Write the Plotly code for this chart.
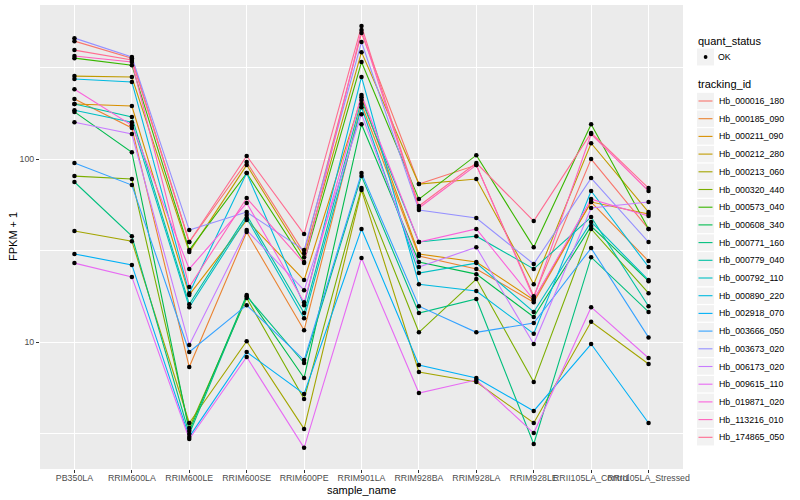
import plotly.graph_objects as go

samples = ["PB350LA", "RRIM600LA", "RRIM600LE", "RRIM600SE", "RRIM600PE", "RRIM901LA",
           "RRIM928BA", "RRIM928LA", "RRIM928LE", "RRII105LA_Control", "RRII105LA_Stressed"]

tracking_ids = ["Hb_000016_180", "Hb_000185_090", "Hb_000211_090", "Hb_000212_280", "Hb_000213_060",
                "Hb_000320_440", "Hb_000573_040", "Hb_000608_340", "Hb_000771_160", "Hb_000779_040",
                "Hb_000792_110", "Hb_000890_220", "Hb_002918_070", "Hb_003666_050", "Hb_003673_020",
                "Hb_006173_020", "Hb_009615_110", "Hb_019871_020", "Hb_113216_010", "Hb_174865_050"]

# FPKM + 1 per sample, in sample order
hb_000016_180 = [441, 356, 35.2, 96.3, 30.6, 488, 73.0, 92.7, 17.8, 100, 41.5]
hb_000185_090 = [213, 148, 7.30, 39.9, 11.6, 200, 29.5, 25.1, 16.5, 58.2, 27.7]
hb_000211_090 = [200, 195, 18.1, 46.4, 21.8, 218, 30.3, 27.4, 17.0, 58.2, 50.1]
hb_000212_280 = [284, 281, 31.0, 92.7, 29.1, 384, 73.0, 77.8, 20.7, 122, 51.3]
hb_000213_060 = [40.4, 35.6, 3.61, 10.1, 3.35, 67.7, 6.86, 6.04, 3.61, 12.9, 7.58]
hb_000320_440 = [80.7, 77.8, 3.39, 17.4, 4.88, 69.4, 11.3, 22.1, 6.04, 41.5, 18.5]
hb_000573_040 = [356, 326, 31.8, 83.8, 27.4, 339, 60.4, 105, 33.0, 155, 41.5]
hb_000608_340 = [181, 109, 3.26, 18.1, 6.36, 155, 27.4, 23.5, 13.7, 43.0, 21.5]
hb_000771_160 = [74.9, 37.9, 3.14, 17.8, 7.68, 80.7, 14.4, 17.2, 2.77, 29.1, 14.6]
hb_000779_040 = [200, 170, 16.1, 49.4, 14.4, 210, 35.2, 37.9, 25.1, 48.2, 15.7]
hb_000792_110 = [185, 159, 15.5, 47.6, 13.5, 192, 23.8, 27.0, 14.6, 45.3, 21.8]
hb_000890_220 = [274, 264, 18.5, 83.8, 15.9, 281, 20.7, 19.0, 11.1, 66.9, 25.7]
hb_002918_070 = [30.3, 26.4, 3.03, 8.82, 5.20, 41.5, 7.49, 6.36, 4.20, 9.75, 3.61]
hb_003666_050 = [95.1, 72.1, 8.82, 15.9, 7.97, 83.8, 15.7, 11.3, 12.7, 32.6, 10.6]
hb_003673_020 = [458, 361, 40.9, 51.3, 31.8, 436, 52.6, 47.6, 26.7, 78.7, 35.2]
hb_006173_020 = [159, 137, 9.63, 40.9, 19.2, 176, 25.7, 33.0, 9.75, 54.0, 58.2]
hb_009615_110 = [27.0, 22.7, 2.95, 8.28, 2.64, 28.8, 5.26, 6.20, 3.18, 15.5, 8.18]
hb_019871_020 = [241, 153, 25.1, 57.5, 16.5, 224, 35.2, 41.5, 17.0, 60.4, 48.8]
hb_113216_010 = [366, 339, 20.0, 61.2, 27.0, 507, 54.0, 92.7, 17.4, 137, 66.9]
hb_174865_050 = [394, 348, 35.2, 104, 38.9, 533, 55.4, 95.1, 45.8, 139, 69.4]

series_values = [hb_000016_180, hb_000185_090, hb_000211_090, hb_000212_280, hb_000213_060,
                 hb_000320_440, hb_000573_040, hb_000608_340, hb_000771_160, hb_000779_040,
                 hb_000792_110, hb_000890_220, hb_002918_070, hb_003666_050, hb_003673_020,
                 hb_006173_020, hb_009615_110, hb_019871_020, hb_113216_010, hb_174865_050]

colors = ["#F8766D", "#EA8331", "#D89000", "#C09B00", "#A3A500", "#7CAE00", "#39B600", "#00BB4E",
          "#00BF7D", "#00C1A3", "#00BFC4", "#00BAE0", "#00B0F6", "#35A2FF", "#9590FF", "#C77CFF",
          "#E76BF3", "#FA62DB", "#FF62BC", "#FF6C91"]

FONT = "Liberation Sans, Arial, Helvetica, sans-serif"

W, H = 800, 500
ML, MR, MT, MB = 40, 117, 5, 31
PW, PH = W - ML - MR, H - MT - MB


def px(x):
    return (x - ML) / PW


def py(y):
    return (H - MB - y) / PH


fig = go.Figure()

for name, vals, col in zip(tracking_ids, series_values, colors):
    fig.add_trace(go.Scatter(
        x=samples, y=vals, mode="lines", name=name,
        line=dict(color=col, width=1.1), showlegend=False,
    ))

all_x = [s for vals in series_values for s in samples]
all_y = [v for vals in series_values for v in vals]
fig.add_trace(go.Scatter(
    x=all_x, y=all_y, mode="markers", name="OK", showlegend=False,
    marker=dict(color="black", size=4.5, symbol="circle"),
))

# manual ggplot-style legend
shapes = []
annotations = []
annotations.append(dict(xref="paper", yref="paper", x=px(696), y=py(41), text="quant_status",
                        showarrow=False, xanchor="left", yanchor="middle",
                        font=dict(size=11, color="black", family=FONT)))
shapes.append(dict(type="rect", xref="paper", yref="paper", x0=px(697), x1=px(714),
                   y0=py(48.5), y1=py(65.5), fillcolor="#F2F2F2", line=dict(width=0), layer="above"))
shapes.append(dict(type="circle", xref="paper", yref="paper", x0=px(703.7), x1=px(707.5),
                   y0=py(55.1), y1=py(58.9), fillcolor="black", line=dict(width=0), layer="above"))
annotations.append(dict(xref="paper", yref="paper", x=px(716), y=py(57), text="OK",
                        showarrow=False, xanchor="left", yanchor="middle",
                        font=dict(size=8.8, color="black", family=FONT)))
annotations.append(dict(xref="paper", yref="paper", x=px(696), y=py(84), text="tracking_id",
                        showarrow=False, xanchor="left", yanchor="middle",
                        font=dict(size=11, color="black", family=FONT)))
for i, (name, col) in enumerate(zip(tracking_ids, colors)):
    yc = 101 + 17.7 * i
    shapes.append(dict(type="rect", xref="paper", yref="paper", x0=px(697), x1=px(714),
                       y0=py(yc - 8.2), y1=py(yc + 8.2), fillcolor="#F2F2F2",
                       line=dict(width=0), layer="above"))
    shapes.append(dict(type="line", xref="paper", yref="paper", x0=px(698.5), x1=px(712.5),
                       y0=py(yc), y1=py(yc), line=dict(color=col, width=1.1), layer="above"))
    annotations.append(dict(xref="paper", yref="paper", x=px(716.5), y=py(yc), text=name,
                            showarrow=False, xanchor="left", yanchor="middle",
                            font=dict(size=8.8, color="black", family=FONT)))

# axis titles
annotations.append(dict(xref="paper", yref="paper", x=0.5, y=py(490), text="sample_name",
                        showarrow=False, xanchor="center", yanchor="middle",
                        font=dict(size=11, color="black", family=FONT)))
annotations.append(dict(xref="paper", yref="paper", x=px(13), y=py(237), text="FPKM + 1",
                        showarrow=False, xanchor="center", yanchor="middle", textangle=-90,
                        font=dict(size=11, color="black", family=FONT)))

fig.update_layout(
    width=W, height=H,
    margin=dict(l=ML, r=MR, t=MT, b=MB, autoexpand=False),
    paper_bgcolor="white",
    plot_bgcolor="#EBEBEB",
    font=dict(family=FONT, size=8.8, color="#4D4D4D"),
    showlegend=False,
    shapes=shapes,
    annotations=annotations,
    xaxis=dict(
        type="category",
        categoryorder="array", categoryarray=samples,
        range=[-0.6, 10.6],
        showgrid=True, gridcolor="white", gridwidth=1.1,
        ticks="outside", ticklen=3, tickcolor="#333333", tickwidth=1,
        tickangle=0, ticklabelstandoff=-3,
        tickfont=dict(size=8.8, color="#4D4D4D", family=FONT),
        zeroline=False, showline=False, automargin=False,
    ),
    yaxis=dict(
        type="log",
        range=[0.306, 2.842],
        tickmode="array", tickvals=[10, 100], ticktext=["10", "100"],
        showgrid=True, gridcolor="white", gridwidth=1.1,
        minor=dict(tickmode="array", tickvals=[3.1623, 31.623, 316.23], showgrid=True,
                   gridcolor="white", gridwidth=0.5, ticks=""),
        ticks="outside", ticklen=3, tickcolor="#333333", tickwidth=1,
        tickfont=dict(size=8.8, color="#4D4D4D", family=FONT),
        zeroline=False, showline=False, automargin=False,
    ),
)

fig.write_html("out.html", config={"displayModeBar": False},
               post_script="document.body.style.margin='0';document.body.style.overflow='hidden';")
